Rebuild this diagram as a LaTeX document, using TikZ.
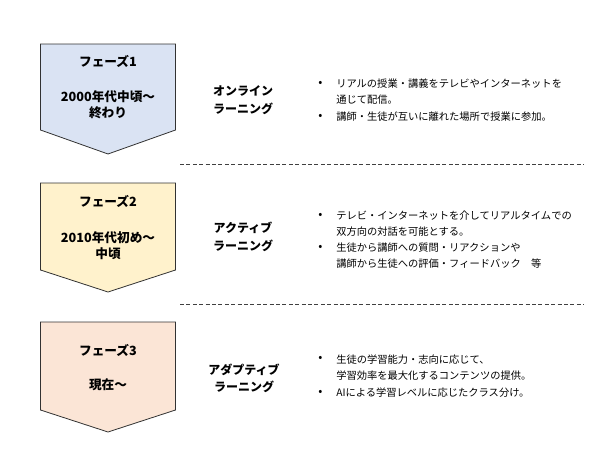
\documentclass[tikz,border=0pt]{standalone}
\usepackage{fontspec}
\setmainfont{Noto Sans CJK JP}
\usepackage{tikz}
\usetikzlibrary{positioning}
\usepackage{xcolor}
\definecolor{phaseblue}{RGB}{218,227,243}
\definecolor{phaseyellow}{RGB}{255,242,204}
\definecolor{phasepeach}{RGB}{251,229,214}
\definecolor{edgegray}{RGB}{50,50,50}

\begin{document}
\begin{tikzpicture}[x=0.75pt, y=-0.75pt,
    chevron/.style={draw=edgegray, line width=0.6pt},
    phasetitle/.style={font=\fontsize{9.5}{12}\selectfont\bfseries, inner sep=0pt},
    phasedate/.style={font=\fontsize{9.5}{12}\selectfont\bfseries, align=center, inner sep=0pt},
    methodlabel/.style={font=\fontsize{9}{13}\selectfont\bfseries, align=center, inner sep=0pt},
    bulletdot/.style={font=\fontsize{9}{10}\selectfont, inner sep=0pt},
    itemtext/.style={font=\fontsize{7.7}{12}\selectfont, align=left, anchor=west, inner sep=0pt},
    sepline/.style={draw=black!75, dash pattern=on 3pt off 1.8pt, line width=0.6pt}]
        \useasboundingbox (0,0) rectangle (600,450);

        % --- Phase 1 ---
        \draw[chevron, fill=phaseblue]
            (40.5,44) -- (175.5,44) -- (175.5,130) -- (108,154) -- (40.5,130) -- cycle;
        \node[phasetitle] (title1) at (108,61) {フェーズ1};
        \node[phasedate] (date1) at (108,105) {2000年代中頃～\\終わり};
        \node[methodlabel] (method1) at (243,100) {オンライン\\ラーニング};
        \node[bulletdot] (dot11) at (320.5,84) {•};
        \node[itemtext] (item11) at (336,91.5) {リアルの授業・講義をテレビやインターネットを\\通じて配信。};
        \node[bulletdot] (dot12) at (320.5,117) {•};
        \node[itemtext] (item12) at (336,117) {講師・生徒が互いに離れた場所で授業に参加。};

        % separateur
        \coordinate (sepA) at (180,164.5);
        \coordinate (sepB) at (584,164.5);
        \draw[sepline] (sepA) -- (sepB);

        % --- Phase 2 ---
        \draw[chevron, fill=phaseyellow]
            (40.5,183) -- (175.5,183) -- (175.5,270) -- (108,292) -- (40.5,270) -- cycle;
        \node[phasetitle] (title2) at (108,201) {フェーズ2};
        \node[phasedate] (date2) at (108,245.5) {2010年代初め～\\中頃};
        \node[methodlabel] (method2) at (243,237) {アクティブ\\ラーニング};
        \node[bulletdot] (dot21) at (320.5,216) {•};
        \node[itemtext] (item21) at (336,223.5) {テレビ・インターネットを介してリアルタイムでの\\双方向の対話を可能とする。};
        \node[bulletdot] (dot22) at (320.5,248) {•};
        \node[itemtext] (item22) at (336,255.5) {生徒から講師への質問・リアクションや\\講師から生徒への評価・フィードバック　等};

        % separateur
        \coordinate (sepC) at (180,304);
        \coordinate (sepD) at (584,304);
        \draw[sepline] (sepC) -- (sepD);

        % --- Phase 3 ---
        \draw[chevron, fill=phasepeach]
            (40.5,322) -- (175.5,322) -- (175.5,410) -- (108,432) -- (40.5,410) -- cycle;
        \node[phasetitle] (title3) at (108,350) {フェーズ3};
        \node[phasedate] (date3) at (108,385) {現在～};
        \node[methodlabel] (method3) at (244,378) {アダプティブ\\ラーニング};
        \node[bulletdot] (dot31) at (320.5,359) {•};
        \node[itemtext] (item31) at (336,367.5) {生徒の学習能力・志向に応じて、\\学習効率を最大化するコンテンツの提供。};
        \node[bulletdot] (dot32) at (320.5,393) {•};
        \node[itemtext] (item32) at (336,393) {AIによる学習レベルに応じたクラス分け。};
    \end{tikzpicture}
\end{document}
